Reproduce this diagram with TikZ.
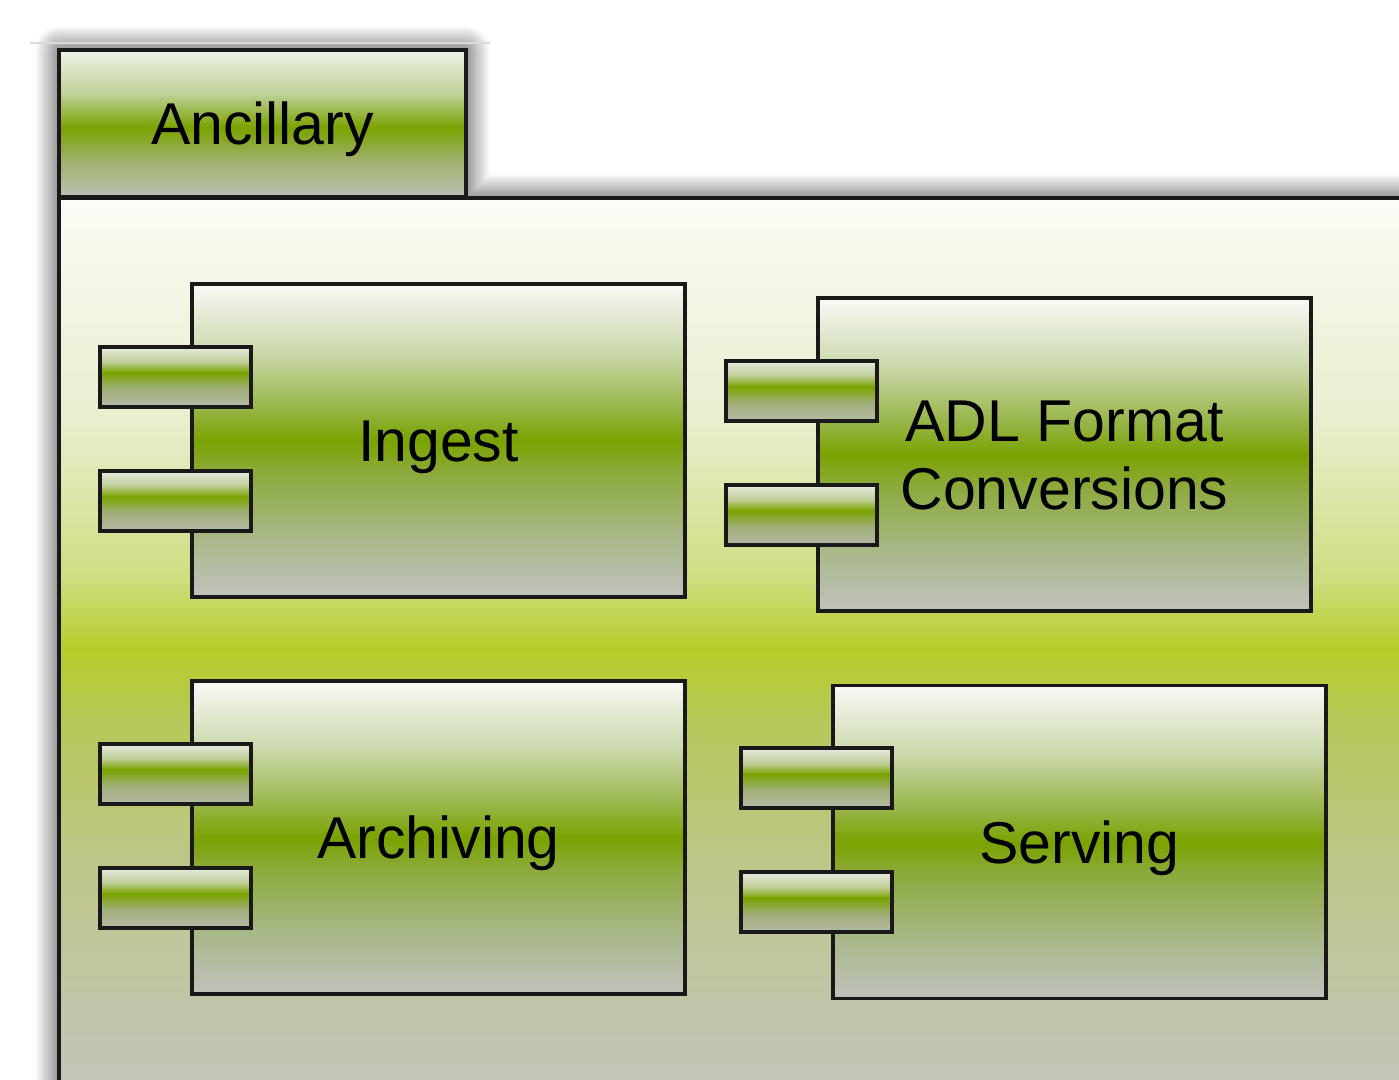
\documentclass[tikz,border=0pt]{standalone}
\usepackage{fontspec}
\setmainfont{Liberation Sans}
\usetikzlibrary{calc,shadows.blur}

% component body colours
\definecolor{cmpA}{RGB}{192,194,188}
\definecolor{cmpB}{RGB}{170,185,140}
\definecolor{cmpC}{RGB}{140,170,60}
\definecolor{cmpD}{RGB}{122,163,0}
\definecolor{cmpE}{RGB}{150,180,70}
\definecolor{cmpF}{RGB}{205,218,175}
\definecolor{cmpG}{RGB}{248,249,245}
% port colours
\definecolor{prtA}{RGB}{182,186,168}
\definecolor{prtB}{RGB}{160,175,120}
\definecolor{prtC}{RGB}{122,163,0}
\definecolor{prtD}{RGB}{190,205,150}
\definecolor{prtE}{RGB}{232,236,225}
% package tab colours
\definecolor{tabA}{RGB}{188,192,180}
\definecolor{tabB}{RGB}{160,178,110}
\definecolor{tabC}{RGB}{122,162,0}
\definecolor{tabD}{RGB}{190,208,150}
\definecolor{tabE}{RGB}{240,244,232}
% package body colours
\definecolor{bodA}{RGB}{196,197,188}
\definecolor{bodB}{RGB}{190,198,140}
\definecolor{bodC}{RGB}{183,200,90}
\definecolor{bodD}{RGB}{184,204,40}
\definecolor{bodE}{RGB}{206,222,130}
\definecolor{bodF}{RGB}{232,238,205}
\definecolor{bodG}{RGB}{251,252,246}

\pgfdeclareverticalshading{compshade}{100bp}{color(0bp)=(cmpA); color(25bp)=(cmpA);
  color(34bp)=(cmpB); color(45bp)=(cmpC); color(50bp)=(cmpD); color(55bp)=(cmpE);
  color(64.5bp)=(cmpF); color(75bp)=(cmpG); color(100bp)=(cmpG)}
\pgfdeclareverticalshading{portshade}{100bp}{color(0bp)=(prtA); color(25bp)=(prtA);
  color(40bp)=(prtB); color(53.5bp)=(prtC); color(62.5bp)=(prtD);
  color(75bp)=(prtE); color(100bp)=(prtE)}
\pgfdeclareverticalshading{tabshade}{100bp}{color(0bp)=(tabA); color(25bp)=(tabA);
  color(37.5bp)=(tabB); color(48.5bp)=(tabC); color(60bp)=(tabD);
  color(75bp)=(tabE); color(100bp)=(tabE)}
\pgfdeclareverticalshading{bodyshade}{100bp}{color(0bp)=(bodA); color(25bp)=(bodA);
  color(37.5bp)=(bodB); color(46bp)=(bodC); color(50bp)=(bodD); color(54bp)=(bodE);
  color(62.5bp)=(bodF); color(75bp)=(bodG); color(100bp)=(bodG)}

\tikzset{
  outline/.style={draw=black!90, line width=3.6pt},
  pkgtab/.style={outline, shade, shading=tabshade, minimum width=407pt, minimum height=147pt,
    inner sep=0pt, font=\fontsize{59pt}{68pt}\selectfont, text height=42pt, text depth=0pt},
  pkgbody/.style={outline, shade, shading=bodyshade, minimum width=1381pt, minimum height=902pt,
    inner sep=0pt},
  comp/.style={outline, shade, shading=compshade, minimum width=493pt, minimum height=313pt,
    inner sep=0pt, font=\fontsize{59pt}{68pt}\selectfont, text height=42pt, text depth=0pt},
  port/.style={outline, shade, shading=portshade, minimum width=151pt, minimum height=60pt,
    inner sep=0pt},
}

\begin{document}
\begin{tikzpicture}[x=1pt, y=-1pt]
  \path[use as bounding box] (0,0) rectangle (1399,1079);
  \clip (0,0) rectangle (1399,1079);

  % soft shadow behind the package outline
  \fill[white, blur shadow={shadow xshift=0pt, shadow yshift=0pt,
      shadow blur radius=24pt, shadow opacity=85, shadow blur steps=24}]
    (59,50) -- (466,50) -- (466,198) -- (1440,198) -- (1440,1100) -- (59,1100) -- cycle;
  \draw[black!14, line width=2pt] (30,43) -- (490,43);

  % package
  \node[pkgbody] (body) at (749.5,649) {};
  \node[pkgtab] (tab) at (262.5,123.5) {Ancillary};

  % components
  \node[comp] (ingest)    at (438.5,440.5)  {Ingest};
  \node[comp, align=center, text height=110pt, text depth=0pt]
    (adl) at (1064.5,454.5) {ADL Format\\Conversions};
  \node[comp] (archiving) at (438.5,837.5)  {Archiving};
  \node[comp] (serving)   at (1079.5,842)   {Serving};

  % interface ports on each component
  \foreach \c in {ingest,adl,archiving,serving}{
    \node[port] (\c-p1) at ($(\c.north west)+(-14.5,94.5)$) {};
    \node[port] (\c-p2) at ($(\c.north west)+(-14.5,218.5)$) {};
  }
\end{tikzpicture}
\end{document}
